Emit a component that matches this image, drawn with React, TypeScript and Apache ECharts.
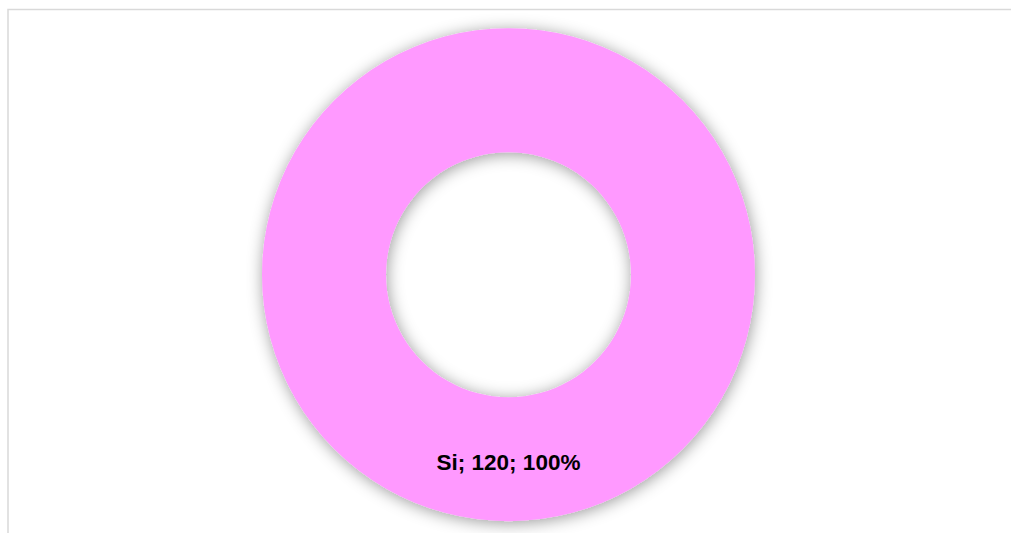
import React, { useEffect, useRef } from "react";
import * as echarts from "echarts";

const categories: string[] = ["Si"];
const values: number[] = [120];
const colors: string[] = ["#FF99FF"];

export default function App() {
  const ref = useRef<HTMLDivElement>(null);
  useEffect(() => {
    if (!ref.current) return;
    const chart = echarts.init(ref.current, undefined, { renderer: "svg" });
    chart.setOption({
      animation: false,
      backgroundColor: "#ffffff",
      graphic: [
        {
          type: "rect",
          shape: { x: 8, y: 9.5, width: 1200, height: 700 },
          style: { fill: "none", stroke: "#d9d9d9", lineWidth: 1.5 },
          silent: true,
          z: -1,
        },
      ],
      series: [
        {
          type: "pie",
          center: [508.5, 274.7],
          radius: [122.5, 246.5],
          startAngle: 90,
          clockwise: true,
          avoidLabelOverlap: false,
          itemStyle: {
            shadowBlur: 16,
            shadowColor: "rgba(0,0,0,0.4)",
            shadowOffsetX: 1,
            shadowOffsetY: 2,
          },
          label: {
            show: true,
            position: "inside",
            formatter: "{b}; {c}; {d}%",
            color: "#000000",
            fontFamily: "Liberation Sans",
            fontWeight: "bold",
            fontSize: 22.5,
          },
          labelLine: { show: false },
          emphasis: { disabled: true },
          data: categories.map((c, i) => ({
            name: c,
            value: values[i],
            itemStyle: { color: colors[i] },
          })),
        },
      ],
    });
    return () => chart.dispose();
  }, []);
  return (
    <div
      ref={ref}
      style={{ position: "absolute", left: 0, top: 0, width: 1011, height: 533 }}
    />
  );
}
